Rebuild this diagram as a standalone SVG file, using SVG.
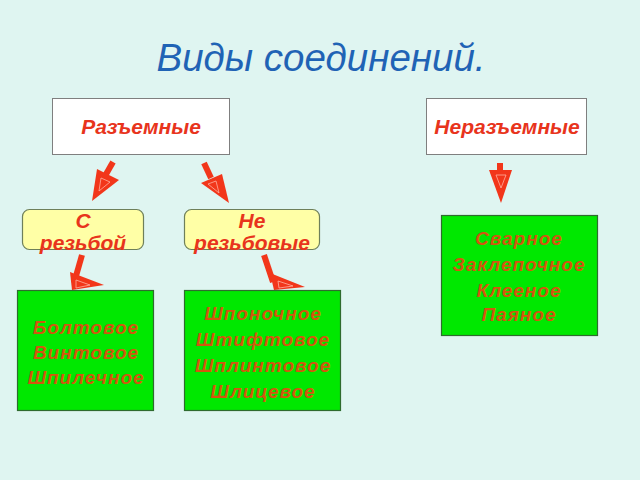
<svg xmlns="http://www.w3.org/2000/svg" width="640" height="480" viewBox="0 0 640 480">
<style>
.title{font-family:"Liberation Sans",Arial,sans-serif;font-style:italic;font-size:38.5px;fill:#1F63B5}
.wbox{fill:#FFFFFF;stroke:#7F7F7F;stroke-width:1}
.ybox{fill:#FFFFA6;stroke:#6E7F5A;stroke-width:1.2}
.gbox{fill:#00E800;stroke:#2F6B2F;stroke-width:1.2}
.rt{font-family:"Liberation Sans",Arial,sans-serif;font-style:italic;font-weight:bold;font-size:21px;fill:#E8341C;text-anchor:middle}
.gt{font-family:"Liberation Sans",Arial,sans-serif;font-style:italic;font-weight:bold;font-size:19px;fill:#D2560E;text-anchor:middle;letter-spacing:1px}
.shaft{stroke:#F2361A;stroke-width:6;fill:none}
.head{fill:#F2361A}
.inner{fill:none;stroke:#FFB0A0;stroke-width:0.8}
</style>
<rect width="640" height="480" fill="#DFF5F1"/>
<text class="title" x="321" y="71" text-anchor="middle">Виды соединений.</text>
<g id="connectors">
<line class="shaft" x1="113" y1="162" x2="105" y2="176"/>
<polygon class="head" points="97,169 119,180 92,201"/>
<polygon class="inner" points="101,178 110,182 99,191"/>
<line class="shaft" x1="204" y1="163" x2="211" y2="178"/>
<polygon class="head" points="201,183 222,174 229,203"/>
<polygon class="inner" points="208,184 216,181 219,193"/>
<line class="shaft" x1="500" y1="163" x2="500" y2="172"/>
<polygon class="head" points="489,170 512,170 501,203"/>
<polygon class="inner" points="496,175 506,175 501,188"/>
<line class="shaft" x1="82" y1="255" x2="74" y2="283"/>
<polygon class="head" points="70,272 104,285 72,290"/>
<polygon class="inner" points="76,280 90,285 76,288"/>
<line class="shaft" x1="264" y1="255" x2="273" y2="282"/>
<polygon class="head" points="270,273 305,287 274,290"/>
<polygon class="inner" points="278,281 293,286 279,288"/>
</g>
<g id="razemnye">
<rect class="wbox" x="52.5" y="98.5" width="177" height="56"/>
<text class="rt" x="141" y="134">Разъемные</text>
</g>
<g id="nerazemnye">
<rect class="wbox" x="426.5" y="98.5" width="160" height="56"/>
<text class="rt" x="507" y="134">Неразъемные</text>
</g>
<g id="s-rezboy">
<rect class="ybox" x="22.5" y="209.5" width="121" height="40" rx="7"/>
<text class="rt" x="83" y="228">С</text>
<text class="rt" x="83" y="250">резьбой</text>
</g>
<g id="ne-rezbovye">
<rect class="ybox" x="184.5" y="209.5" width="135" height="40" rx="7"/>
<text class="rt" x="252" y="228">Не</text>
<text class="rt" x="252" y="250">резьбовые</text>
</g>
<g id="boltovoe">
<rect class="gbox" x="17.5" y="290.5" width="136" height="120"/>
<text class="gt" x="86" y="334">Болтовое</text>
<text class="gt" x="86" y="359">Винтовое</text>
<text class="gt" x="86" y="384">Шпилечное</text>
</g>
<g id="shponochnoe">
<rect class="gbox" x="184.5" y="290.5" width="156" height="120"/>
<text class="gt" x="263" y="320">Шпоночное</text>
<text class="gt" x="263" y="346">Штифтовое</text>
<text class="gt" x="263" y="372">Шплинтовое</text>
<text class="gt" x="263" y="398">Шлицевое</text>
</g>
<g id="svarnoe">
<rect class="gbox" x="441.5" y="215.5" width="156" height="120"/>
<text class="gt" x="519" y="245">Сварное</text>
<text class="gt" x="519" y="271">Заклепочное</text>
<text class="gt" x="519" y="297">Клееное</text>
<text class="gt" x="519" y="321">Паяное</text>
</g>
</svg>
